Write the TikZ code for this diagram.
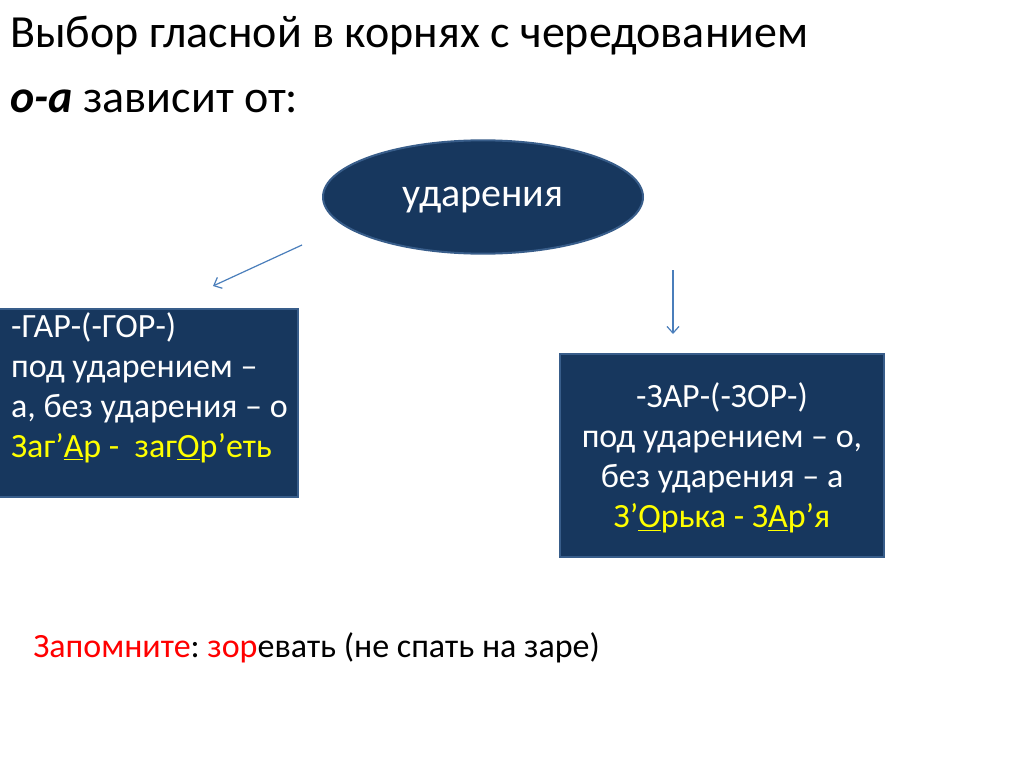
\documentclass[tikz,border=0pt]{standalone}
\usepackage{fontspec}
\setmainfont{Carlito}
\usepackage{tikz}
\usetikzlibrary{arrows.meta,positioning,calc,shapes.geometric}
\definecolor{SlideNavy}{HTML}{17375E}
\definecolor{SlideRim}{HTML}{385D8A}
\definecolor{SlideArrow}{HTML}{4A7EBB}
\definecolor{SlideYellow}{HTML}{FFFF00}
\definecolor{SlideRed}{HTML}{FF0000}
\newcommand{\titlesize}{\fontsize{34.5pt}{41pt}\selectfont}
\newcommand{\boxsize}{\fontsize{25.5pt}{30pt}\selectfont}
\newcommand{\ovalsize}{\fontsize{30pt}{36pt}\selectfont}
\frenchspacing

\begin{document}
\begin{tikzpicture}[x=0.75pt,y=-0.75pt,
  navybox/.style={draw=SlideRim,line width=1.5pt,fill=SlideNavy,text=white,inner sep=0pt},
  pointer/.style={draw=SlideArrow,line width=0.9pt,-{Straight Barb[length=5pt,width=9pt]}}]
  \useasboundingbox[fill=white] (0,0) rectangle (1024,767);
  % heading
  \node[anchor=base west,inner sep=0pt,font=\titlesize] (title) at (10,48)
    {Выбор гласной в корнях с чередованием};
  \node[anchor=base west,inner sep=0pt,font=\titlesize] (subtitle) at (10,113)
    {\textbf{\textit{о-а}} зависит от:};
  % stress oval
  \node[navybox,ellipse,minimum width=240pt,minimum height=85pt,text depth=0pt,font=\ovalsize] (stress) at (483,197) {ударения};
  % root boxes
  \node[navybox,minimum width=226pt,minimum height=141pt] (gar) at (147.5,403) {};
  \node[anchor=north west,inner sep=0pt,align=left,text=white,font=\boxsize] (gartext)
    at ($(gar.north west)+(15,4)$)
    {-ГАР-(-ГОР-)\\под ударением –\\а, без ударения – о\\
     \textcolor{SlideYellow}{Заг’\underline{А}р -\ \ заг\underline{О}р’еть}};
  \node[navybox,minimum width=243pt,minimum height=152pt,align=center,text depth=0pt,font=\boxsize] (zar) at (722,455.5)
    {-ЗАР-(-ЗОР-)\\под ударением – о,\\без ударения – а\\
     \textcolor{SlideYellow}{З’\underline{О}рька - З\underline{А}р’я}};
  % arrows
  \coordinate (leftfrom) at (302,245);
  \coordinate (lefttip) at (213,286);
  \coordinate (rightfrom) at (673,270);
  \coordinate (righttip) at (673,334);
  \draw[pointer] (leftfrom) -- (lefttip);
  \draw[pointer] (rightfrom) -- (righttip);
  % reminder
  \node[anchor=base west,inner sep=0pt,font=\boxsize] (note) at (33,657)
    {\textcolor{SlideRed}{Запомните}: \textcolor{SlideRed}{зор}евать (не спать на заре)};
\end{tikzpicture}
\end{document}
